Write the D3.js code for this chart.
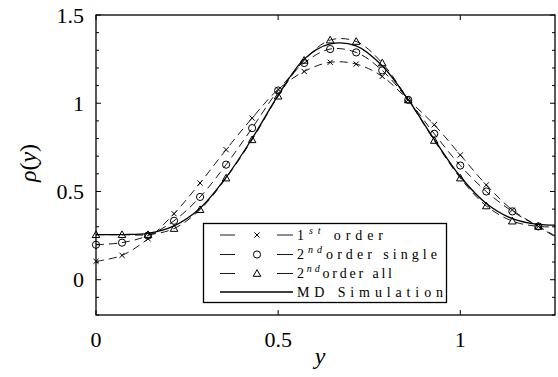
<!DOCTYPE html>
<html><head><meta charset="utf-8">
<script src="https://cdn.jsdelivr.net/npm/d3@7"></script>
<style>
@font-face{font-family:"CMRoman";src:local("Liberation Serif"),local("LiberationSerif"),local("Liberation Serif Regular");font-style:normal;}
@font-face{font-family:"CMRoman";src:local("Liberation Serif Italic"),local("LiberationSerif-Italic");font-style:italic;}
</style>
</head><body style="margin:0">
<svg id="c" width="558" height="377"></svg>
<script>
// grid positions y = k/14
const xs = d3.range(19).map(k => k / 14);
const first = [0.104,0.138,0.232,0.374,0.548,0.737,0.916,1.078,1.180,1.232,1.222,1.152,1.019,0.878,0.707,0.537,0.395,0.302,0.21];
const secondSingle = [0.198,0.210,0.250,0.334,0.469,0.652,0.859,1.072,1.228,1.307,1.288,1.186,1.019,0.827,0.647,0.500,0.387,0.302,0.22];
const secondAll = [0.255,0.255,0.255,0.290,0.397,0.576,0.793,1.040,1.243,1.358,1.350,1.228,1.019,0.789,0.576,0.418,0.332,0.302,0.30];
const md = [0.255,0.256,0.263,0.305,0.405,0.580,0.800,1.045,1.250,1.336,1.325,1.212,1.020,0.795,0.585,0.432,0.346,0.313,0.310];
const xTicks = [0, 0.5, 1];
const yTicks = [0, 0.5, 1, 1.5];
const yMinor = d3.range(-2, 16).map(i => i / 10);
const legendLabels = [["1","st"," order"],["2","nd","order single"],["2","nd","order all"],["MD Simulation"]];

const svg = d3.select("#c");
function txt(sel) {
  return sel.append("text").style("font-family", '"Liberation Serif", "CMRoman", "Times New Roman", serif');
}
const L = 96, R = 555, T = 15, B = 315;
const x = d3.scaleLinear().domain([0, 1.26]).range([L, R]);
const y = d3.scaleLinear().domain([-0.2, 1.5]).range([B, T]);

svg.append("defs").append("clipPath").attr("id","clip")
  .append("rect").attr("x", L).attr("y", T).attr("width", R - L).attr("height", B - T);

const line = d3.line().x((d,i) => x(xs[i])).y(d => y(d)).curve(d3.curveCatmullRom);
const g = svg.append("g").attr("clip-path","url(#clip)");
g.append("path").attr("d", line(md)).attr("fill","none").attr("stroke","#000").attr("stroke-width",1.3);
[first, secondSingle, secondAll].forEach(s => {
  g.append("path").attr("d", line(s)).attr("fill","none").attr("stroke","#000")
   .attr("stroke-width",0.9).attr("stroke-dasharray","8,5");
});

function marker(sel, type, cx, cy) {
  if (type === 0) {
    const r = 2.6;
    sel.append("path").attr("d", `M${cx-r},${cy-r}L${cx+r},${cy+r}M${cx-r},${cy+r}L${cx+r},${cy-r}`)
      .attr("stroke","#000").attr("stroke-width",1).attr("fill","none");
  } else if (type === 1) {
    sel.append("circle").attr("cx",cx).attr("cy",cy).attr("r",3.6).attr("fill","none").attr("stroke","#000").attr("stroke-width",1);
  } else if (type === 2) {
    const h = 3.8;
    sel.append("path").attr("d", `M${cx},${cy-h}L${cx+h},${cy+h*0.75}L${cx-h},${cy+h*0.75}Z`)
      .attr("fill","none").attr("stroke","#000").attr("stroke-width",1);
  }
}
const mg = svg.append("g");
[first, secondSingle, secondAll].forEach((s, t) => {
  s.forEach((v, i) => { if (xs[i] <= 1.26) marker(mg, t, x(xs[i]), y(v)); });
});

// axes box
const ax = svg.append("g").attr("stroke","#000").attr("stroke-width",1.3);
ax.append("rect").attr("x",L).attr("y",T).attr("width",R-L).attr("height",B-T).attr("fill","none");
xTicks.forEach(t => {
  ax.append("line").attr("x1",x(t)).attr("x2",x(t)).attr("y1",B).attr("y2",B-5).attr("stroke-width",1);
  ax.append("line").attr("x1",x(t)).attr("x2",x(t)).attr("y1",T).attr("y2",T+5).attr("stroke-width",1);
});
yMinor.forEach(t => {
  const major = yTicks.some(m => Math.abs(m - t) < 1e-9);
  const len = major ? 5 : 3;
  ax.append("line").attr("x1",L).attr("x2",L+len).attr("y1",y(t)).attr("y2",y(t)).attr("stroke-width",1);
  ax.append("line").attr("x1",R).attr("x2",R-len).attr("y1",y(t)).attr("y2",y(t)).attr("stroke-width",1);
});
xTicks.forEach(t => {
  txt(svg).attr("x",x(t)).attr("y",347).attr("text-anchor","middle").attr("font-size",22).text(t);
});
yTicks.forEach(t => {
  txt(svg).attr("x",84).attr("y",y(t)+7.5).attr("text-anchor","end").attr("font-size",22).text(t);
});
txt(svg).attr("x",320).attr("y",364).attr("text-anchor","middle").attr("font-size",24).attr("font-style","italic").text("y");
const yl = txt(svg).attr("transform","translate(36,163) rotate(-90)").attr("text-anchor","middle").attr("font-size",24);
yl.append("tspan").attr("font-style","italic").text("ρ");
yl.append("tspan").text("(");
yl.append("tspan").attr("font-style","italic").text("y");
yl.append("tspan").text(")");

// legend
const lg = svg.append("g");
lg.append("rect").attr("x",203.5).attr("y",223.5).attr("width",243).attr("height",79)
  .attr("fill","#fff").attr("stroke","#000").attr("stroke-width",1.3);
const rows = [235, 254.5, 273.5, 292];
const widths = [86, 140, 95, 146];
legendLabels.forEach((lab, i) => {
  const ry = rows[i];
  if (i < 3) {
    lg.append("line").attr("x1",220).attr("x2",235).attr("y1",ry).attr("y2",ry).attr("stroke","#000").attr("stroke-width",0.9);
    lg.append("line").attr("x1",277).attr("x2",293).attr("y1",ry).attr("y2",ry).attr("stroke","#000").attr("stroke-width",0.9);
    marker(lg, i, 257, ry);
  } else {
    lg.append("line").attr("x1",220).attr("x2",293).attr("y1",ry).attr("y2",ry).attr("stroke","#000").attr("stroke-width",1.3);
  }
  const tx = txt(lg).attr("x",297).attr("y",ry+4.5).attr("font-size",14)
    .attr("textLength", widths[i]).attr("lengthAdjust","spacing");
  if (lab.length === 3) {
    tx.append("tspan").text(lab[0]);
    tx.append("tspan").attr("font-size",10).attr("font-style","italic").attr("dy",-6).text(lab[1]);
    tx.append("tspan").attr("dy",6).text(lab[2]);
  } else tx.text(lab[0]);
});
</script>
</body></html>
